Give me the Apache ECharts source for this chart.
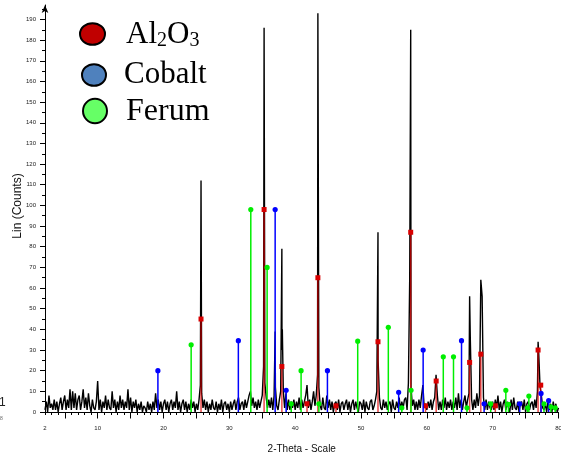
<!DOCTYPE html>
<html>
<head>
<meta charset="utf-8">
<script src="https://cdn.jsdelivr.net/npm/echarts@6/dist/echarts.min.js"></script>
<style>
html,body{margin:0;padding:0;background:#fff;}
#chart{width:561px;height:460px;}
</style>
</head>
<body>
<div id="chart"></div>
<script>
// ---- DATA ----
// Background (noise) counts on a 0.2 degree grid from 2 to 80 (2-Theta)
const bgStart = 2;
const bgStep = 0.2;
const background = [
  1,5,0,8,2,4,1,6,1,5,
  0,4,7,1,5,8,1,6,2,11,
  1,10,2,9,1,6,8,1,5,11,
  2,7,1,9,3,0,6,2,1,5,
  15,1,6,0,5,2,8,1,6,2,
  1,10,2,6,0,5,1,8,2,6,
  1,5,2,11,1,7,0,5,2,6,
  0,4,1,5,0,3,2,0,5,1,
  4,0,5,1,9,2,6,1,5,0,
  4,6,1,5,0,4,6,1,5,2,
  10,1,5,0,4,6,1,5,0,4,
  1,6,2,5,0,4,1,6,13,9,
  2,6,1,5,0,4,1,6,2,1,
  5,0,4,1,6,0,4,5,1,4,
  0,5,1,4,6,1,5,7,1,4,
  5,1,6,2,5,8,10,3,7,2,
  5,1,6,2,5,8,22,14,7,2,
  6,2,7,1,8,12,3,1,6,10,
  30,10,2,9,1,6,1,5,2,6,
  1,5,2,7,1,6,2,5,8,13,
  2,6,1,5,10,3,8,18,12,3,
  1,7,2,1,8,2,6,1,5,0,
  4,5,1,6,0,4,5,1,4,6,
  1,5,0,4,6,1,5,2,0,5,
  4,1,6,0,5,2,1,5,6,1,
  3,6,10,25,7,2,1,6,2,5,
  1,4,5,0,6,2,1,5,2,7,
  1,5,2,6,7,1,14,65,12,3,
  6,1,5,1,6,2,8,13,2,4,
  1,5,2,6,1,5,7,18,8,1,
  5,1,6,2,7,1,5,2,6,1,
  5,2,7,1,9,2,6,1,5,8,
  2,6,9,36,6,1,6,2,9,3,
  8,64,56,7,1,6,1,5,2,1,
  5,1,6,2,8,1,5,0,4,6,
  1,5,2,0,6,1,7,2,1,5,
  0,4,5,1,6,0,4,5,1,4,
  5,1,6,2,10,28,12,8,2,1,
  4,0,5,1,4,0,5,1,4,0,
  2
];
// Sharp diffraction peaks of the measured pattern [2-Theta, counts]
const peaks = [
  [25.7,112],[35.28,186],[36.96,39],[37.98,79],[38.05,40],
  [43.45,193],[52.58,87],[57.55,185],[66.5,56],[76.9,34]
];
// Reference stick patterns [2-Theta, counts]
const al2o3 = [
  [25.7,45],[35.28,98],[37.98,22],[41.8,4],[43.45,65],[46.2,3],
  [52.58,34],[57.55,87],[59.8,3],[61.42,15],[66.5,24],[68.2,28],
  [70.4,3],[76.9,30],[77.3,13]
];
const cobalt = [
  [19.15,20],[31.37,34.5],[36.96,98],[38.63,10.5],[44.9,20],[55.72,9.5],
  [59.44,30],[65.27,34.5],[68.7,4],[74.1,4],[77.35,9],[78.5,5.5]
];
const ferum = [
  [24.2,32.5],[33.26,98],[35.74,70],[39.4,4],[40.9,20],[43.6,4],
  [49.5,34.3],[54.15,41],[56.2,2],[57.6,10.5],[62.5,26.7],[64.05,26.7],
  [66.1,2],[69.7,4],[72.0,10.5],[72.4,3.7],[75.3,2],[75.5,7.7],
  [77.8,4],[78.85,2.5],[79.5,2]
];
// Axis ticks / labels
const xLabels = [2,10,20,30,40,50,60,70,80];
const xMajorTicks = [5,10,15,20,25,30,35,40,45,50,55,60,65,70,75,80];
const yTicks = [0,10,20,30,40,50,60,70,80,90,100,110,120,130,140,150,160,170,180,190];
const yMinorTicks = [5,15,25,35,45,55,65,75,85,95,105,115,125,135,145,155,165,175,185,195];
const legendItems = ['Al2O3','Cobalt','Ferum'];

// ---- BUILD ----
const pattern = background
  .map((v, i) => [Math.round((bgStart + i * bgStep) * 100) / 100, v])
  .concat(peaks)
  .sort((a, b) => a[0] - b[0]);

function stickSeries(name, data, lineColor, markColor, mark, z) {
  return {
    type: 'custom',
    name: name,
    data: data,
    xAxisIndex: 0,
    yAxisIndex: 0,
    z: z,
    silent: true,
    renderItem: function (params, api) {
      const x = api.value(0), y = api.value(1);
      const top = api.coord([x, y]);
      const base = api.coord([x, 0]);
      const children = [{
        type: 'line',
        shape: { x1: top[0], y1: top[1], x2: base[0], y2: base[1] },
        style: { stroke: lineColor, lineWidth: 1.5 }
      }];
      if (mark === 'rect') {
        children.push({ type: 'rect', shape: { x: top[0] - 2.5, y: top[1] - 2.5, width: 5, height: 5 }, style: { fill: markColor } });
      } else {
        children.push({ type: 'circle', shape: { cx: top[0], cy: top[1], r: 2.6 }, style: { fill: markColor } });
      }
      return { type: 'group', children: children };
    }
  };
}

const tickFont = { fontSize: 6, color: '#222', fontFamily: 'Liberation Sans' };

const chart = echarts.init(document.getElementById('chart'), null, { renderer: 'canvas' });
chart.setOption({
  animation: false,
  backgroundColor: '#fff',
  grid: { left: 45, right: 2.5, top: 5, bottom: 48, containLabel: false, outerBoundsMode: 'none' },
  xAxis: [
    {
      type: 'value', min: 2, max: 80, interval: 1,
      axisLine: { show: true, onZero: false, lineStyle: { color: '#000', width: 1 } },
      axisTick: { show: true, length: 3, lineStyle: { color: '#000', width: 1 } },
      axisLabel: { show: false },
      splitLine: { show: false }
    },
    {
      type: 'value', min: 2, max: 80, position: 'bottom',
      axisLine: { show: false, onZero: false },
      axisTick: { show: true, length: 6.5, customValues: xMajorTicks, lineStyle: { color: '#000', width: 1 } },
      axisLabel: Object.assign({ customValues: xLabels, margin: 13 }, tickFont),
      splitLine: { show: false },
      name: '2-Theta - Scale', nameLocation: 'middle', nameGap: 32,
      nameTextStyle: { fontSize: 10, color: '#111', fontFamily: 'Liberation Sans' }
    }
  ],
  yAxis: [
    {
      type: 'value', min: 0, max: 197,
      axisLine: { show: true, onZero: false, symbol: ['none', 'arrow'], symbolSize: [5, 8], lineStyle: { color: '#000', width: 1 } },
      axisTick: { show: true, length: 5, customValues: yTicks, lineStyle: { color: '#000', width: 1 } },
      axisLabel: Object.assign({ customValues: yTicks, margin: 9 }, tickFont),
      splitLine: { show: false }
    },
    {
      type: 'value', min: 0, max: 197, position: 'left',
      axisLine: { show: false, onZero: false },
      axisTick: { show: true, length: 3, customValues: yMinorTicks, lineStyle: { color: '#000', width: 1 } },
      axisLabel: { show: false },
      splitLine: { show: false }
    }
  ],
  series: [
    {
      type: 'line', name: 'pattern', data: pattern, xAxisIndex: 0, yAxisIndex: 0,
      showSymbol: false, symbol: 'none', silent: true, z: 2,
      lineStyle: { color: '#000', width: 1.4 }
    },
    stickSeries(legendItems[0], al2o3, 'rgba(225,0,0,0.72)', '#d80000', 'rect', 3),
    stickSeries(legendItems[1], cobalt, '#0000ff', '#0000ff', 'circle', 4),
    stickSeries(legendItems[2], ferum, '#00ee00', '#00ee00', 'circle', 4)
  ],
  graphic: [
    { type: 'text', x: 18, y: 206, rotation: Math.PI / 2,
      style: { text: 'Lin (Counts)', fontSize: 12, fill: '#111', fontFamily: 'Liberation Sans', align: 'center', verticalAlign: 'middle' } },
    { type: 'ellipse', shape: { cx: 92.5, cy: 34, rx: 12.5, ry: 10.8 }, style: { fill: '#c00000', stroke: '#000', lineWidth: 2 } },
    { type: 'ellipse', shape: { cx: 94, cy: 75, rx: 12, ry: 10.8 }, style: { fill: '#4f81bd', stroke: '#000', lineWidth: 2 } },
    { type: 'ellipse', shape: { cx: 95, cy: 111, rx: 12, ry: 12.2 }, style: { fill: '#66ff66', stroke: '#000', lineWidth: 2 } },
    { type: 'text', x: 126, y: 35,
      style: { text: '{a|Al}{s|2}{a|O}{s|3}', verticalAlign: 'middle', align: 'left',
        rich: { a: { fontSize: 31, lineHeight: 31, fontFamily: 'Liberation Serif', fill: '#000' },
                s: { fontSize: 20, lineHeight: 16, verticalAlign: 'bottom', fontFamily: 'Liberation Serif', fill: '#000' } } } },
    { type: 'text', x: 124, y: 75,
      style: { text: legendItems[1], fontSize: 31, fontFamily: 'Liberation Serif', fill: '#000', verticalAlign: 'middle', align: 'left' } },
    { type: 'text', x: 126, y: 112,
      style: { text: legendItems[2], fontSize: 32, fontFamily: 'Liberation Serif', fill: '#000', verticalAlign: 'middle', align: 'left' } },
    { type: 'text', x: -1, y: 403,
      style: { text: '1', fontSize: 12, fontFamily: 'Liberation Sans', fill: '#222', verticalAlign: 'middle' } },
    { type: 'text', x: 0, y: 419,
      style: { text: '8', fontSize: 5, fontFamily: 'Liberation Sans', fill: '#666', verticalAlign: 'middle' } }
  ]
});
</script>
</body>
</html>
